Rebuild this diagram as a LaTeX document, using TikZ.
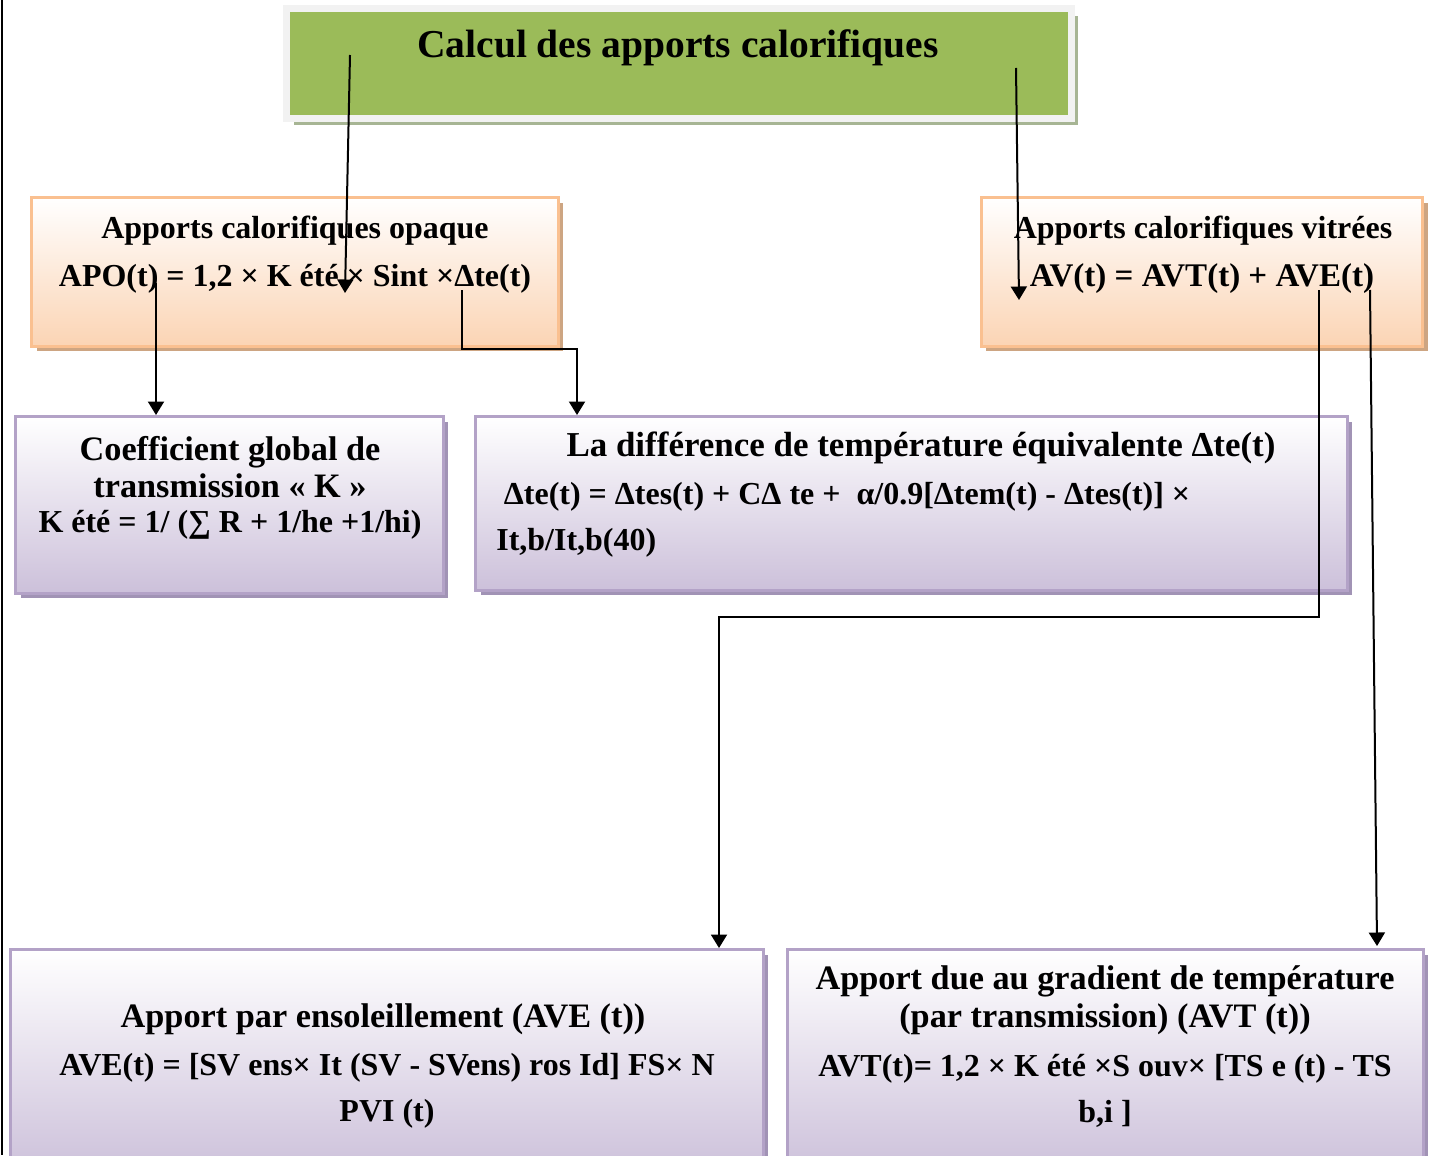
\documentclass[tikz,border=0pt]{standalone}
\usepackage{fontspec}
\setmainfont{Liberation Serif}
\usetikzlibrary{arrows.meta, shadows, positioning}

\definecolor{vertTitre}{HTML}{9BBB59}
\definecolor{grisCadre}{HTML}{F2F2F2}
\definecolor{ombreTitre}{HTML}{A7B594}
\definecolor{orangeBord}{HTML}{FAC090}
\definecolor{orangeBas}{HTML}{FBD4B4}
\definecolor{orangeOmbre}{HTML}{CDA582}
\definecolor{violetBord}{HTML}{B3A2C7}
\definecolor{violetBas}{HTML}{CCC0DA}
\definecolor{violetOmbre}{HTML}{A193B5}

\begin{document}
\begin{tikzpicture}[x=0.02cm, y=-0.02cm, align=center,
  titrebox/.style={draw=grisCadre, line width=0.14cm, fill=vertTitre, drop shadow={shadow xshift=0.14cm, shadow yshift=-0.14cm, fill=ombreTitre, opacity=1}},
  orangebox/.style={draw=orangeBord, line width=0.06cm, top color=white, bottom color=orangeBas, drop shadow={shadow xshift=0.1cm, shadow yshift=-0.1cm, fill=orangeOmbre, opacity=1}},
  violetbox/.style={draw=violetBord, line width=0.06cm, top color=white, bottom color=violetBas, drop shadow={shadow xshift=0.1cm, shadow yshift=-0.1cm, fill=violetOmbre, opacity=1}},
  titretxt/.style={inner sep=0pt, font=\fontsize{22.5}{27}\selectfont\bfseries},
  entete/.style={inner sep=0pt, font=\fontsize{19.5}{21.5}\selectfont\bfseries},
  formule/.style={inner sep=0pt, font=\fontsize{18.2}{26.4}\selectfont\bfseries},
  fleche/.style={-{Triangle[width=0.32cm, length=0.27cm]}, line width=0.04cm}]
\useasboundingbox (0,0) rectangle (1435,1155);
\draw[line width=0.04cm] (2,0) -- (2,1155);

% boites
\node (titre) [titrebox, minimum width=15.7cm, minimum height=2.2cm] at (679,63.5) {};
\node (opaque) [orangebox, minimum width=10.54cm, minimum height=2.98cm] at (295,272) {};
\node (vitrees) [orangebox, minimum width=8.84cm, minimum height=2.98cm] at (1202,272) {};
\node (coeff) [violetbox, minimum width=8.56cm, minimum height=3.54cm] at (229.5,505) {};
\node (diff) [violetbox, minimum width=17.44cm, minimum height=3.48cm] at (911.5,503.5) {};
\node (ave) [violetbox, minimum width=15.06cm, minimum height=4.5cm] at (387,1062) {};
\node (avt) [violetbox, minimum width=12.72cm, minimum height=4.5cm] at (1105.5,1062) {};

% textes
\node (titre-txt) [titretxt] at (678,48) {Calcul des apports calorifiques};
\node (opaque-nom) [formule] at (295,231) {Apports calorifiques opaque};
\node (opaque-eq) [formule] at (295,279) {APO(t) = 1,2 × K été × Sint ×Δte(t)};
\node (vitrees-nom) [formule] at (1203,231) {Apports calorifiques vitrées};
\node (vitrees-eq) [formule, font=\fontsize{18.8}{26.4}\selectfont\bfseries] at (1202,279) {AV(t) = AVT(t) + AVE(t)};
\node (coeff-nom) [entete] at (230,467) {Coefficient global de\\transmission « K »};
\node (coeff-eq) [formule] at (230,525) {K été = 1/ (∑ R + 1/he +1/hi)};
\node (diff-nom) [entete, font=\fontsize{19.9}{21.5}\selectfont\bfseries] at (921,448) {La différence de température équivalente Δte(t)};
\node (diff-eq) [formule, align=left, anchor=west] at (496,520) {\hspace{0.15cm}Δte(t) = Δtes(t) + CΔ te + \ α/0.9[Δtem(t) - Δtes(t)] ×\\It,b/It,b(40)};
\node (ave-nom) [entete] at (383,1019) {Apport par ensoleillement (AVE (t))};
\node (ave-eq) [formule] at (387,1091) {AVE(t) = [SV ens× It (SV - SVens) ros Id] FS× N\\PVI (t)};
\node (avt-nom) [entete] at (1105,1000) {Apport due au gradient de température\\(par transmission) (AVT (t))};
\node (avt-eq) [formule] at (1105,1091) {AVT(t)= 1,2 × K été ×S ouv× [TS e (t) - TS\\b,i ]};

% fleches
\coordinate (titre-g) at (350,55);
\coordinate (titre-g-fin) at (345,293);
\coordinate (titre-d) at (1016,68);
\coordinate (titre-d-fin) at (1019,300);
\coordinate (apo) at (156,283);
\coordinate (delta) at (462,290);
\coordinate (delta-coude) at (577,349);
\coordinate (ave-dep) at (1319,290);
\coordinate (ave-coude) at (719,617);
\coordinate (avt-dep) at (1370,290);
\coordinate (avt-fin) at (1377,946);

\draw[fleche] (titre-g) -- (titre-g-fin);
\draw[fleche] (titre-d) -- (titre-d-fin);
\draw[fleche] (apo) -- (apo |- coeff.north);
\draw[fleche] (delta) |- (delta-coude) -- (delta-coude |- diff.north);
\draw[fleche] (ave-dep) |- (ave-coude) -- (ave-coude |- ave.north);
\draw[fleche] (avt-dep) -- (avt-fin);
\end{tikzpicture}
\end{document}
